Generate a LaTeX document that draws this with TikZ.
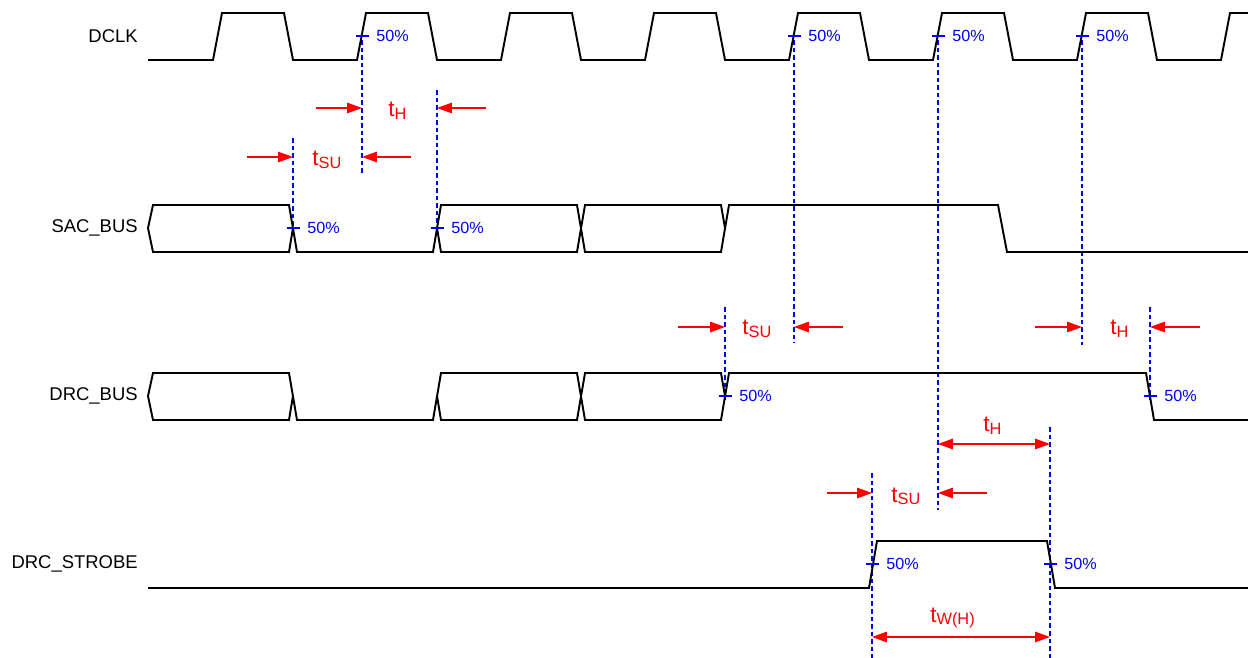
\documentclass[tikz,border=0pt]{standalone}
\usepackage{fontspec}
\setmainfont{Liberation Sans}
\usepackage{tikz}
\usetikzlibrary{arrows.meta, positioning}

\newcommand{\tname}[1]{t\raisebox{-1.6pt}{\fontsize{9.3}{10}\selectfont #1}}

\begin{document}
\begin{tikzpicture}[x=0.02cm, y=-0.02cm,
			wave/.style={line width=1.1pt, line join=miter},
			guide/.style={blue, line width=0.7pt, dash pattern=on 2.6pt off 1.7pt},
			midtick/.style={blue, line width=0.9pt},
			pct/.style={blue, font=\fontsize{9.2}{10}\selectfont, anchor=west, inner sep=0pt},
			signame/.style={font=\fontsize{10.5}{12}\selectfont, anchor=east, inner sep=0pt},
			dim/.style={red, line width=0.75pt, -{Triangle[length=8.5pt, width=6pt]}},
			dimboth/.style={red, line width=0.75pt, {Triangle[length=8.5pt, width=6pt]}-{Triangle[length=8.5pt, width=6pt]}},
			tlab/.style={red, font=\fontsize{12.8}{14}\selectfont, anchor=base west, inner sep=0pt}]
			\useasboundingbox (0,0) rectangle (1248,658);
			% signal names
			\node[signame] (dclk) at (138,36) {DCLK};
			\node[signame] (sac) at (138,228) {SAC\_BUS};
			\node[signame] (drc) at (138,396) {DRC\_BUS};
			\node[signame] (strobe) at (138,564) {DRC\_STROBE};
			% dashed timing references
			\foreach \x/\ya/\yb in {362/40/175, 437/90/230, 293/138/230, 794/40/343, 938/40/510,
				1082/40/345, 725/307/400, 1150/307/400, 872/473/658, 1050/427/658}{
				\coordinate (g\x) at (\x,\ya);
				\draw[guide] (g\x) -- (\x,\yb);
			}
			% DCLK
			\draw[wave] (148,60) \foreach \x in {213,357,...,1077}{ -- (\x,60) -- (\x+9,13) -- (\x+71,13) -- (\x+80,60) }
				-- (1221,60) -- (1230,13) -- (1248,13);
			% SAC_BUS
			\draw[wave] (148,228) -- (153,205) -- (289,205) -- (297,252) -- (433,252) -- (441,205) -- (577,205)
				-- (585,252) -- (721,252) -- (729,205) -- (998,205) -- (1007,252) -- (1248,252);
			\draw[wave] (148,228) -- (153,252) -- (289,252) -- (293,228);
			\draw[wave] (437,228) -- (441,252) -- (577,252) -- (585,205) -- (721,205) -- (725,228);
			% DRC_BUS
			\draw[wave] (148,396) -- (153,373) -- (289,373) -- (297,420) -- (433,420) -- (441,373) -- (577,373)
				-- (585,420) -- (721,420) -- (729,373) -- (1146,373) -- (1154,420) -- (1248,420);
			\draw[wave] (148,396) -- (153,420) -- (289,420) -- (293,396);
			\draw[wave] (437,396) -- (441,420) -- (577,420) -- (585,373) -- (721,373) -- (725,396);
			% DRC_STROBE
			\draw[wave] (148,588) -- (869,588) -- (877,541) -- (1047,541) -- (1055,588) -- (1248,588);
			% 50% marks
			\foreach \x/\y in {362/36, 794/36, 938/36, 1082/36, 293/228, 437/228, 725/396, 1150/396, 872/564, 1050/564}{
				\draw[midtick] (\x-6.5,\y) -- (\x+6.5,\y);
				\node[pct] (pc\x) at (\x+14,\y) {50\%};
			}
			% setup and hold arrows
			\coordinate (h1) at (316,108); \draw[dim] (h1) -- (h1 -| g362);
			\coordinate (h2) at (486,108); \draw[dim] (h2) -- (h2 -| g437);
			\node[tlab] (th1) at (388,117) {\tname{H}};
			\coordinate (s1) at (247,157); \draw[dim] (s1) -- (s1 -| g293);
			\coordinate (s2) at (411,157); \draw[dim] (s2) -- (s2 -| g362);
			\node[tlab] (tsu1) at (312,166) {\tname{SU}};
			\coordinate (s3) at (678,327); \draw[dim] (s3) -- (s3 -| g725);
			\coordinate (s4) at (843,327); \draw[dim] (s4) -- (s4 -| g794);
			\node[tlab] (tsu2) at (742,335) {\tname{SU}};
			\coordinate (h3) at (1035,327); \draw[dim] (h3) -- (h3 -| g1082);
			\coordinate (h4) at (1200,327); \draw[dim] (h4) -- (h4 -| g1150);
			\node[tlab] (th2) at (1110,335) {\tname{H}};
			\coordinate (h5) at (938,444); \draw[dimboth] (h5) -- (h5 -| g1050);
			\node[tlab] (th3) at (983,432) {\tname{H}};
			\coordinate (s5) at (827,493); \draw[dim] (s5) -- (s5 -| g872);
			\coordinate (s6) at (987,493); \draw[dim] (s6) -- (s6 -| g938);
			\node[tlab] (tsu3) at (891,502) {\tname{SU}};
			\coordinate (w1) at (872,637); \draw[dimboth] (w1) -- (w1 -| g1050);
			\node[tlab] (tw) at (930,622) {\tname{W(H)}};
		\end{tikzpicture}
\end{document}
